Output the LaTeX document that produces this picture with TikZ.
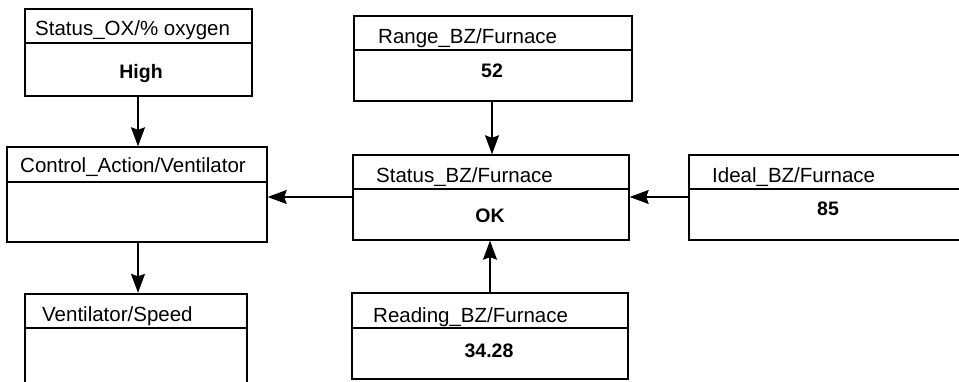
\documentclass[tikz,border=0pt]{standalone}
\usepackage{fontspec}
\setmainfont{Liberation Sans}
\usetikzlibrary{arrows.meta}
\tikzset{
  box/.style={draw=black, line width=1.4pt, rectangle, inner sep=0pt, fill=none},
  thickbox/.style={box, line width=2.3pt},
  divline/.style={draw=black, line width=1.1pt},
  thickdiv/.style={draw=black, line width=2pt},
  titletext/.style={anchor=base west, inner sep=0pt, font=\fontsize{20.5}{24}\selectfont},
  valuetext/.style={anchor=base, inner sep=0pt, font=\fontsize{19.5}{23}\selectfont\bfseries},
  conn/.style={draw=black, line width=1.4pt, -{Stealth[length=19pt,width=14pt,inset=2.5pt]}},
}
\begin{document}
\begin{tikzpicture}[x=1pt,y=-1pt]
\useasboundingbox (0,0) rectangle (959,382);
\clip (0,0) rectangle (959,382);
\fill[white] (0,0) rectangle (959,382);
% boxes
\node[box, minimum width=227pt, minimum height=87pt] (ox) at (138.5,52.5) {};
\node[box, minimum width=260pt, minimum height=95pt] (ctrl) at (137,194.5) {};
\node[thickbox, minimum width=222pt, minimum height=110pt] (vent) at (136,349) {};
\node[box, minimum width=278pt, minimum height=85pt] (range) at (493,58.5) {};
\node[box, minimum width=276pt, minimum height=85pt] (stat) at (491,197.5) {};
\node[box, minimum width=276pt, minimum height=86pt] (read) at (490,336) {};
\node[box, minimum width=290pt, minimum height=85pt] (ideal) at (834,197.5) {};
% dividers
\draw[divline] (ox.west |- 0,43) -- (ox.east |- 0,43);
\draw[divline] (ctrl.west |- 0,182) -- (ctrl.east |- 0,182);
\draw[thickdiv] (vent.west |- 0,328) -- (vent.east |- 0,328);
\draw[divline] (range.west |- 0,50) -- (range.east |- 0,50);
\draw[divline] (stat.west |- 0,189) -- (stat.east |- 0,189);
\draw[divline] (read.west |- 0,328) -- (read.east |- 0,328);
\draw[divline] (ideal.west |- 0,189) -- (ideal.east |- 0,189);
% texts
\node[titletext] (oxT) at (35,36) {Status\_OX/\% oxygen};
\node[valuetext] (oxV) at (141,79) {High};
\node[titletext] (ctrlT) at (20,173) {Control\_Action/Ventilator};
\node[titletext] (ventT) at (42,321) {Ventilator/Speed};
\node[titletext] (rangeT) at (378,44) {Range\_BZ/Furnace};
\node[valuetext] (rangeV) at (492,78) {52};
\node[titletext] (statT) at (376,183) {Status\_BZ/Furnace};
\node[valuetext] (statV) at (490,223) {OK};
\node[titletext] (readT) at (373,322) {Reading\_BZ/Furnace};
\node[valuetext] (readV) at (489,357) {34.28};
\node[titletext] (idealT) at (712,183) {Ideal\_BZ/Furnace};
\node[valuetext] (idealV) at (828,216) {85};
% connectors
\coordinate (oxout) at (138,96);
\draw[conn] (oxout) -- (oxout |- ctrl.north);
\coordinate (ctrlout) at (138,242);
\draw[conn] (ctrlout) -- (ctrlout |- vent.north);
\coordinate (rangeout) at (492,101);
\draw[conn] (rangeout) -- (rangeout |- stat.north);
\coordinate (readout) at (490,293);
\draw[conn] (readout) -- (readout |- stat.south);
\coordinate (statout) at (353,197);
\draw[conn] (statout) -- (statout -| ctrl.east);
\coordinate (idealout) at (689,197);
\draw[conn] (idealout) -- (idealout -| stat.east);
\end{tikzpicture}
\end{document}
